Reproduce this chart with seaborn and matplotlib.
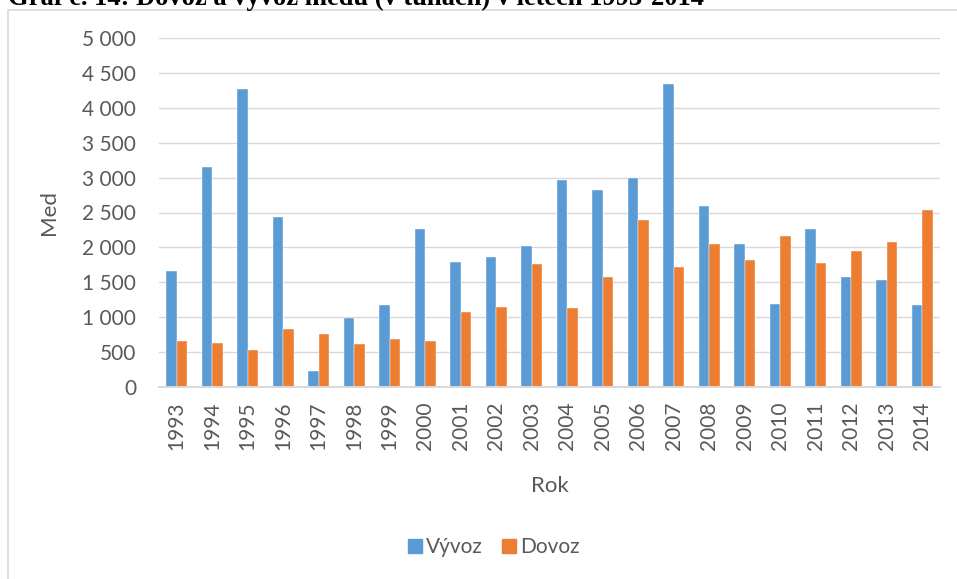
import matplotlib
matplotlib.use("Agg")
import matplotlib.pyplot as plt
from matplotlib.ticker import FuncFormatter, MultipleLocator
from matplotlib.lines import Line2D
import seaborn as sns
import pandas as pd

years = [str(y) for y in range(1993, 2015)]
vyvoz = [1666, 3150, 4270, 2441, 225, 991, 1168, 2269, 1790, 1862, 2020,
         2973, 2820, 2992, 4351, 2590, 2049, 1182, 2264, 1580, 1527, 1178]
dovoz = [661, 622, 522, 823, 752, 613, 685, 656, 1067, 1139, 1757,
         1125, 1570, 2389, 1714, 2049, 1824, 2168, 1776, 1944, 2082, 2537]
series_names = ["Vývoz", "Dovoz"]
colors = ["#5B9BD5", "#ED7D31"]
title = "Graf č. 14: Dovoz a vývoz medu (v tunách) v letech 1993-2014"

df = pd.DataFrame({
    "Rok": years * 2,
    "Med": vyvoz + dovoz,
    "Serie": [series_names[0]] * len(years) + [series_names[1]] * len(years),
})

sns.set_theme(style="white")
plt.rcParams["font.family"] = ["Lato", "DejaVu Sans"]

W, H = 957, 579
fig = plt.figure(figsize=(W / 100, H / 100), dpi=100)
ax = fig.add_axes([159 / W, 1 - 386.7 / H, (940 - 159) / W, (386.7 - 38.3) / H])

sns.barplot(data=df, x="Rok", y="Med", hue="Serie", palette=colors,
            width=0.6, ax=ax, legend=False, saturation=1,
            edgecolor="white", linewidth=0.3)

ax.set_ylim(0, 5000)
ax.set_xlim(-0.5, len(years) - 0.5)
ax.yaxis.set_major_locator(MultipleLocator(500))
ax.yaxis.set_major_formatter(FuncFormatter(lambda v, p: f"{int(v):,}".replace(",", " ")))
ax.grid(axis="y", color="#D9D9D9", linewidth=1.0)
ax.set_axisbelow(True)
for s in ["top", "left", "right"]:
    ax.spines[s].set_visible(False)
ax.spines["bottom"].set_color("#D9D9D9")
ax.spines["bottom"].set_linewidth(1.4)

tc = "#595959"
ax.tick_params(axis="y", length=0, pad=16.5, labelsize=15, labelcolor=tc)
ax.tick_params(axis="x", length=0, pad=11, labelsize=15, labelcolor=tc, rotation=90)

ax.set_xlabel("Rok", fontsize=16, color=tc, labelpad=8)
ax.set_ylabel("Med", fontsize=16, color=tc, labelpad=10)
ax.xaxis.set_label_coords(0.5, -(476 - 386.7) / (386.7 - 38.3))
ax.yaxis.set_label_coords(-(159 - 59) / (940 - 159), 0.5)

handles = [Line2D([0], [0], marker="s", linestyle="none", markersize=10.5,
                  markerfacecolor=c, markeredgecolor=c) for c in colors]
leg = fig.legend(handles, series_names, loc="center", ncol=2,
                 bbox_to_anchor=(493 / W, 1 - 547 / H), frameon=False,
                 fontsize=15, handletextpad=0.1, columnspacing=0.9,
                 handlelength=0.8)
for t in leg.get_texts():
    t.set_color(tc)

# outer chart frame (partly outside the image)
fig.add_artist(Line2D([8 / W, 8 / W], [0, 1 - 10 / H], transform=fig.transFigure,
                      color="#D9D9D9", linewidth=1.2))
fig.add_artist(Line2D([8 / W, 1], [1 - 10 / H, 1 - 10 / H], transform=fig.transFigure,
                      color="#D9D9D9", linewidth=1.2))

# cut-off document caption above the chart
txt = fig.text(8 / W, 1 - 5 / H, title, family=["Liberation Serif", "DejaVu Serif"],
               fontweight="bold", fontsize=16, va="baseline", ha="left", color="black")
fig.canvas.draw()
wpx = txt.get_window_extent().width
txt.set_fontsize(16 * (707 - 8) / wpx)

fig.savefig("out.png", dpi=100)
